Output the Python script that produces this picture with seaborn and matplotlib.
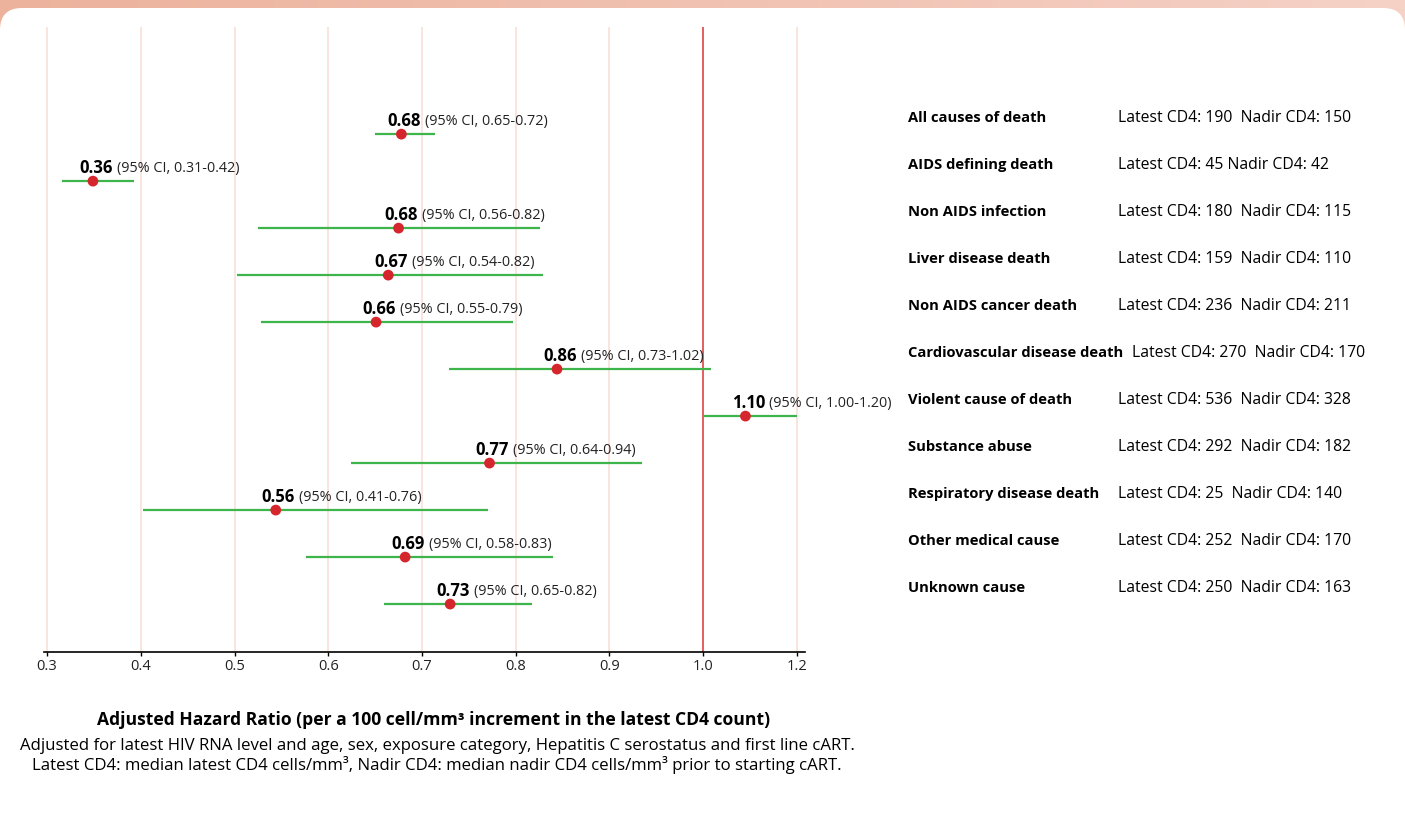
import numpy as np
import pandas as pd
import matplotlib
matplotlib.use("Agg")
import matplotlib.pyplot as plt
import seaborn as sns
from matplotlib.patches import FancyBboxPatch
from matplotlib.colors import LinearSegmentedColormap

# ---------------- data ----------------
causes = ["All causes of death", "AIDS defining death", "Non AIDS infection",
          "Liver disease death", "Non AIDS cancer death", "Cardiovascular disease death",
          "Violent cause of death", "Substance abuse", "Respiratory disease death",
          "Other medical cause", "Unknown cause"]
hr_label = ["0.68", "0.36", "0.68", "0.67", "0.66", "0.86", "1.10", "0.77", "0.56", "0.69", "0.73"]
ci_label = ["0.65-0.72", "0.31-0.42", "0.56-0.82", "0.54-0.82", "0.55-0.79", "0.73-1.02",
            "1.00-1.20", "0.64-0.94", "0.41-0.76", "0.58-0.83", "0.65-0.82"]
# positions as drawn in the picture
hr_plot = [0.678, 0.349, 0.675, 0.664, 0.651, 0.844, 1.045, 0.772, 0.544, 0.682, 0.730]
lo_plot = [0.650, 0.316, 0.525, 0.503, 0.528, 0.729, 1.000, 0.624, 0.402, 0.576, 0.660]
hi_plot = [0.714, 0.393, 0.826, 0.829, 0.797, 1.008, 1.100, 0.935, 0.770, 0.840, 0.817]
cd4_text = ["Latest CD4: 190  Nadir CD4: 150", "Latest CD4: 45 Nadir CD4: 42",
            "Latest CD4: 180  Nadir CD4: 115", "Latest CD4: 159  Nadir CD4: 110",
            "Latest CD4: 236  Nadir CD4: 211", "Latest CD4: 270  Nadir CD4: 170",
            "Latest CD4: 536  Nadir CD4: 328", "Latest CD4: 292  Nadir CD4: 182",
            "Latest CD4: 25  Nadir CD4: 140", "Latest CD4: 252  Nadir CD4: 170",
            "Latest CD4: 250  Nadir CD4: 163"]
tick_vals = [0.3, 0.4, 0.5, 0.6, 0.7, 0.8, 0.9, 1.0, 1.1]
tick_labels = ["0.3", "0.4", "0.5", "0.6", "0.7", "0.8", "0.9", "1.0", "1.2"]

df = pd.DataFrame({"cause": causes, "hr": hr_plot, "lo": lo_plot, "hi": hi_plot,
                   "row": np.arange(len(causes))})

# ---------------- style ----------------
sns.set_theme(style="white")
plt.rcParams['font.family'] = ['Open Sans', 'DejaVu Sans']

W, H = 1405, 819
fig = plt.figure(figsize=(W / 100, H / 100), dpi=100)
fig.patch.set_facecolor("white")

# background: peach band + white rounded card
bg = fig.add_axes([0, 0, 1, 1], zorder=-10)
bg.set_xlim(0, W)
bg.set_ylim(H, 0)
bg.axis("off")
grad = np.linspace(0, 1, 256).reshape(1, -1)
cmap = LinearSegmentedColormap.from_list("peach", ["#ecb29c", "#f5d1c6"])
bg.imshow(grad, extent=[0, W, 60, 0], aspect="auto", cmap=cmap)
bg.add_patch(FancyBboxPatch((0, 8), W, H + 40, boxstyle="round,pad=0,rounding_size=22",
                            facecolor="white", edgecolor="none"))

ax = fig.add_axes([44 / W, (H - 652) / H, (805 - 44) / W, (652 - 27) / H])
ax.set_facecolor("none")

px = 0.1 / 93.71
ax.set_xlim(0.3 - 3 * px, 1.1 + 8 * px)
ax.set_ylim(len(causes) - 1 + 1.02, -2.28)

for v in tick_vals:
    ax.axvline(v, color="#f9dcd4", lw=1.1, zorder=0)
ax.axvline(1.0, color="#e0474c", lw=1.2, zorder=1)

ax.hlines(df["row"], df["lo"], df["hi"], color="#3db54a", lw=1.6, zorder=2)
sns.scatterplot(data=df, x="hr", y="row", ax=ax, color="#d6262d", s=60,
                edgecolor="none", zorder=3, legend=False)

for spine in ["top", "right", "left"]:
    ax.spines[spine].set_visible(False)
ax.spines["bottom"].set_color("black")
ax.spines["bottom"].set_linewidth(1.2)
ax.set_xticks(tick_vals)
ax.set_xticklabels(tick_labels, fontsize=10.5, color="#222222")
ax.tick_params(axis="x", length=3, width=1, color="black", pad=2, bottom=True)
ax.set_yticks([])
ax.set_xlabel("")
ax.set_ylabel("")

# value labels above points
for i in range(len(causes)):
    t1 = ax.annotate(hr_label[i], xy=(hr_plot[i], i), xytext=(-10, 9.6),
                     textcoords="offset points", ha="left", va="center",
                     fontsize=12, fontweight="bold", color="black")
    ax.annotate(f"(95% CI, {ci_label[i]})", xy=(1, 0.5), xycoords=t1,
                xytext=(3, -0.3), textcoords="offset points", ha="left", va="center",
                fontsize=10.4, color="#222222")

# right-hand text
cat_texts = []
for i in range(len(causes)):
    t = ax.annotate(causes[i], xy=(908 / W, i), xycoords=("figure fraction", "data"),
                    xytext=(0, 11.5), textcoords="offset points", ha="left", va="center",
                    fontsize=10.6, fontweight="bold", color="black")
    cat_texts.append(t)

fig.canvas.draw()
renderer = fig.canvas.get_renderer()
for i, t in enumerate(cat_texts):
    right = t.get_window_extent(renderer).x1
    xpix = max(1118, right + 9)
    ax.annotate(cd4_text[i], xy=(xpix / W, i), xycoords=("figure fraction", "data"),
                xytext=(0, 11.5), textcoords="offset points", ha="left", va="center",
                fontsize=11.3, color="black")

fig.text(434 / W, 1 - 720 / H,
         "Adjusted Hazard Ratio (per a 100 cell/mm³ increment in the latest CD4 count)",
         ha="center", va="center", fontsize=12.6, fontweight="bold", color="black")
fig.text(437 / W, 1 - 746 / H,
         "Adjusted for latest HIV RNA level and age, sex, exposure category, Hepatitis C serostatus and first line cART.",
         ha="center", va="center", fontsize=12.1, color="black")
fig.text(437 / W, 1 - 765 / H,
         "Latest CD4: median latest CD4 cells/mm³, Nadir CD4: median nadir CD4 cells/mm³ prior to starting cART.",
         ha="center", va="center", fontsize=12.1, color="black")

fig.savefig("out.png", dpi=100)
